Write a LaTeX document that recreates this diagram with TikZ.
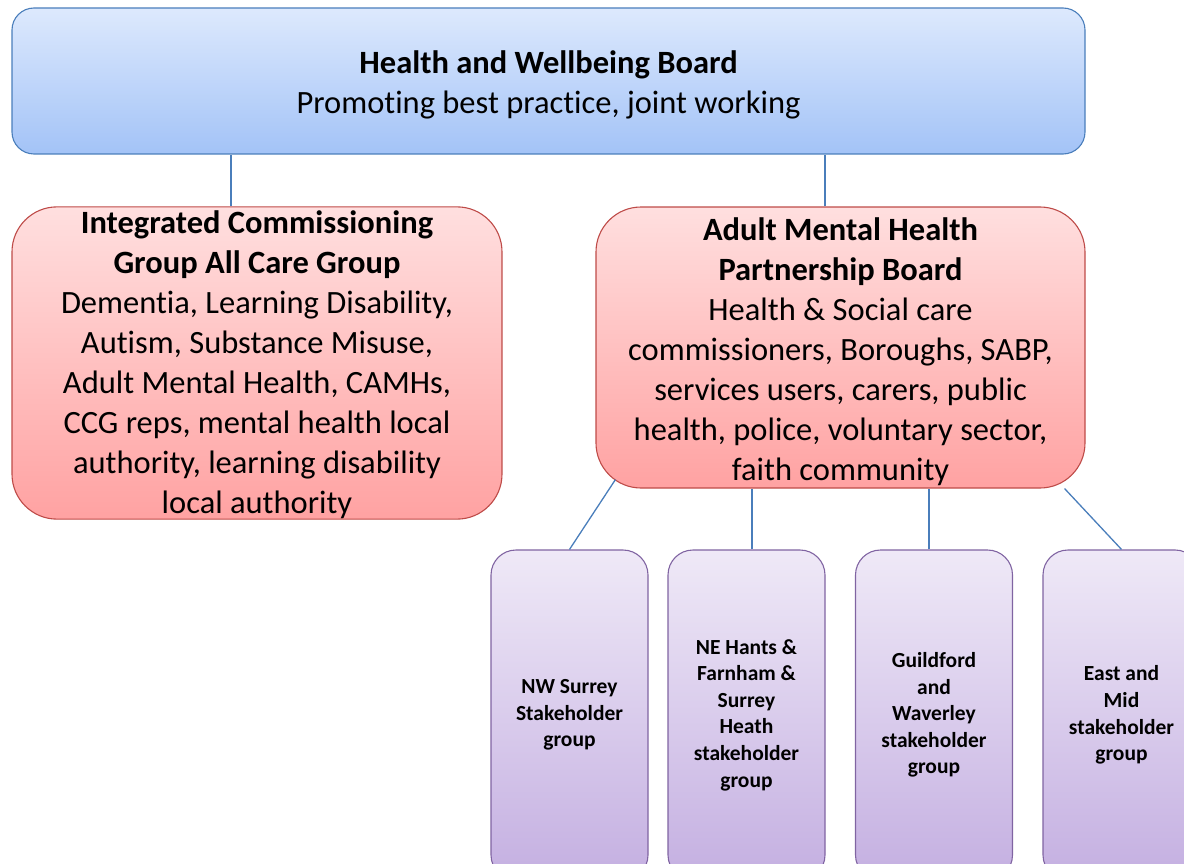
\documentclass[tikz,border=0pt]{standalone}
\usepackage{fontspec}
\setmainfont{Carlito}[Ligatures={NoCommon}]
\usetikzlibrary{positioning}

\definecolor{boardline}{HTML}{4A7EBB}
\definecolor{boardtop}{HTML}{DDE9FD}
\definecolor{boardbot}{HTML}{A3C3F7}
\definecolor{groupline}{HTML}{BE4B48}
\definecolor{grouptop}{HTML}{FFDFDF}
\definecolor{groupbot}{HTML}{FFA2A2}
\definecolor{localline}{HTML}{8064A2}
\definecolor{localtop}{HTML}{EFE9F7}
\definecolor{localbot}{HTML}{C4AFE1}
\newcommand{\topgap}[1][31pt]{\rule{0pt}{#1}}

\begin{document}
\begin{tikzpicture}[x=1pt, y=-1pt,
    board/.style={rectangle, draw=boardline, line width=1.1pt, top color=boardtop, bottom color=boardbot, rounded corners=22pt, inner sep=0pt, align=center, font=\fontsize{32.5}{40}\selectfont},
    group/.style={rectangle, draw=groupline, line width=1.1pt, top color=grouptop, bottom color=groupbot, rounded corners=45pt, inner sep=0pt, align=center, font=\fontsize{32.5}{40}\selectfont},
    local/.style={rectangle, draw=localline, line width=1.1pt, top color=localtop, bottom color=localbot, rounded corners=25pt, minimum width=157pt, minimum height=330pt, inner sep=0pt, align=center, font=\bfseries\fontsize{21.5}{26.6}\selectfont},
    link/.style={draw=boardline, line width=1.3pt}]
    \useasboundingbox (0,0) rectangle (1184,864);
    \clip (0,0) rectangle (1184,864);

    \node [board, minimum width=1073pt, minimum height=146pt] (hwb) at (548.5,81) {\topgap\textbf{Health and Wellbeing Board}\\Promoting best practice, joint working};
    \node [group, minimum width=490pt, minimum height=312pt] (icg) at (257,363) {\topgap[27pt]\textbf{Integrated Commissioning}\\\textbf{Group All Care Group}\\Dementia, Learning Disability,\\Autism, Substance Misuse,\\Adult Mental Health, CAMHs,\\CCG reps, mental health local\\authority, learning disability\\local authority};
    \node [group, minimum width=489pt, minimum height=281pt] (amh) at (840.5,347.5) {\topgap\textbf{Adult Mental Health}\\\textbf{Partnership Board}\\Health \& Social care\\commissioners, Boroughs, SABP,\\services users, carers, public\\health, police, voluntary sector,\\faith community};

    % stakeholder groups
    \node [local] (nws) at (569.5,715) {NW Surrey\\Stakeholder\\group};
    \node [local] (neh) at (746.5,715) {NE Hants \&\\Farnham \&\\Surrey\\Heath\\stakeholder\\group};
    \node [local] (gw) at (934,715) {Guildford\\and\\Waverley\\stakeholder\\group};
    \node [local] (em) at (1121.5,715) {East and\\Mid\\stakeholder\\group};

    \draw [link] ([xshift=-26pt]icg.north) -- ([xshift=-26pt]icg.north |- hwb.south);
    \draw [link] ([xshift=-15.5pt]amh.north) -- ([xshift=-15.5pt]amh.north |- hwb.south);
    \draw [link] ([shift={(20,-9)}]amh.south west) -- (nws.north);
    \draw [link] ([xshift=5.5pt]neh.north) -- ([xshift=5.5pt]neh.north |- amh.south);
    \draw [link] ([xshift=-5pt]gw.north) -- ([xshift=-5pt]gw.north |- amh.south);
    \draw [link] ([xshift=-21pt]amh.south east) -- (em.north);
\end{tikzpicture}
\end{document}
